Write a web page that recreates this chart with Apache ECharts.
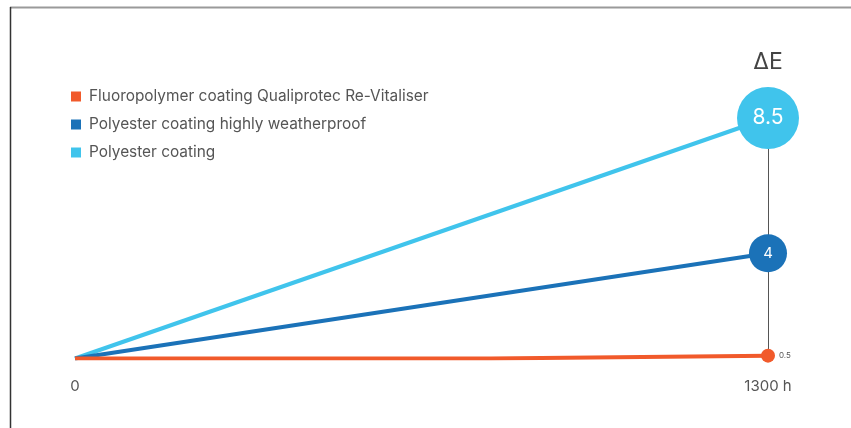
<!DOCTYPE html>
<html><head><meta charset="utf-8">
<script src="https://cdn.jsdelivr.net/npm/echarts@6/dist/echarts.min.js"></script>
<style>html,body{margin:0;padding:0;background:#fff}#c{width:851px;height:428px}</style>
</head><body><div id="c"></div>
<script>
var seriesNames = ['Fluoropolymer coating Qualiprotec Re-Vitaliser', 'Polyester coating highly weatherproof', 'Polyester coating'];
var colors = ['#F15A2B', '#1B72B8', '#40C4EC'];
// hours (x) and plotted positions as drawn in the picture
var fluoroX = [0, 780, 1300];
var fluoroY = [0, 0, 0.1];
var weatherX = [0, 1300];
var weatherY = [0, 3.72];
var polyX = [0, 1300];
var polyY = [0, 8.5];
var endLabels = ['0.5', '4', '8.5'];
var xTickLabels = ['0', '1300 h'];
var yTitle = 'ΔE';

var endSizes = [14, 38, 62];
var endFont = [8, 15, 21];

function build(xs, ys, idx) {
  return xs.map(function (x, i) {
    var last = i === xs.length - 1;
    var item = { value: [x, ys[i]], symbolSize: last ? endSizes[idx] : 0 };
    if (last) {
      item.label = idx === 0 ?
        { show: true, position: 'right', distance: 4, formatter: endLabels[idx], fontSize: endFont[idx], color: '#555', fontFamily: 'Inter' } :
        { show: true, position: 'inside', formatter: endLabels[idx], fontSize: endFont[idx], color: '#fff', fontFamily: 'Inter' };
    }
    return item;
  });
}

var chart = echarts.init(document.getElementById('c'));
chart.setOption({
  animation: false,
  graphic: [
    { type: 'line', shape: { x1: 10, y1: 7.5, x2: 851, y2: 7.5 }, style: { stroke: '#9a9a9a', lineWidth: 2 } },
    { type: 'line', shape: { x1: 10.5, y1: 7, x2: 10.5, y2: 428 }, style: { stroke: '#333', lineWidth: 1.5 } },
    { type: 'text', x: 768, y: 62, style: { text: yTitle, align: 'center', verticalAlign: 'middle', font: '23px Inter', fill: '#444' } }
  ],
  legend: {
    orient: 'vertical', left: 66, top: 84, itemWidth: 10, itemHeight: 10, itemGap: 13, icon: 'rect',
    textStyle: { fontFamily: 'Inter', fontSize: 15.4, color: '#555', padding: [0, 0, 0, 3] },
    data: seriesNames
  },
  grid: { left: 75, right: 83, top: 118, bottom: 69.5, containLabel: false },
  xAxis: {
    type: 'value', min: 0, max: 1300, interval: 1300,
    axisLine: { show: false }, axisTick: { show: false }, splitLine: { show: false },
    axisLabel: { margin: 20, fontFamily: 'Inter', fontSize: 15, color: '#555',
      formatter: function (v) { return v === 0 ? xTickLabels[0] : xTickLabels[1]; } }
  },
  yAxis: { type: 'value', min: 0, max: 8.5, show: false },
  series: [
    { name: seriesNames[2], type: 'line', color: colors[2], symbol: 'circle', lineStyle: { width: 4 }, itemStyle: { color: colors[2] }, z: 3, data: build(polyX, polyY, 2) },
    { name: seriesNames[1], type: 'line', color: colors[1], symbol: 'circle', lineStyle: { width: 4 }, itemStyle: { color: colors[1] }, z: 4, data: build(weatherX, weatherY, 1) },
    { name: seriesNames[0], type: 'line', color: colors[0], symbol: 'circle', lineStyle: { width: 4 }, itemStyle: { color: colors[0] }, z: 5, data: build(fluoroX, fluoroY, 0),
      markLine: { silent: true, symbol: 'none', z: 1, lineStyle: { color: '#555', width: 1, type: 'solid' }, label: { show: false },
        data: [[{ coord: [fluoroX[2], fluoroY[2]] }, { coord: [polyX[1], polyY[1]] }]] } }
  ]
});
</script></body></html>
